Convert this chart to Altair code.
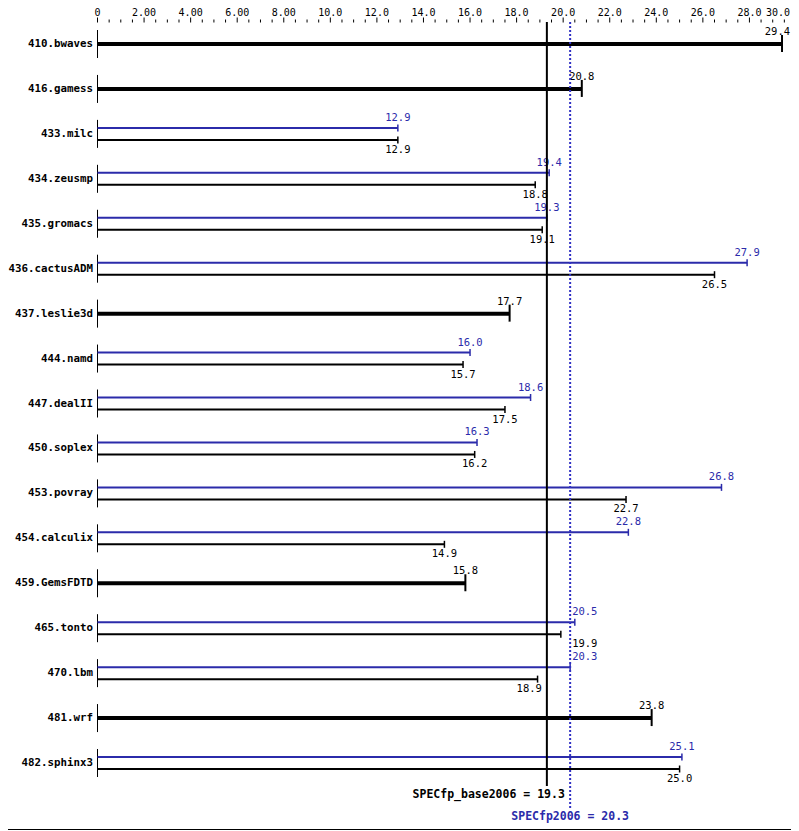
import altair as alt
import pandas as pd
import numpy as np

benchmarks = ["410.bwaves", "416.gamess", "433.milc", "434.zeusmp", "435.gromacs",
              "436.cactusADM", "437.leslie3d", "444.namd", "447.dealII", "450.soplex",
              "453.povray", "454.calculix", "459.GemsFDTD", "465.tonto", "470.lbm",
              "481.wrf", "482.sphinx3"]
base_ratio = [29.4, 20.8, 12.9, 18.8, 19.1, 26.5, 17.7, 15.7, 17.5, 16.2,
              22.7, 14.9, 15.8, 19.9, 18.9, 23.8, 25.0]
peak_ratio = [None, None, 12.9, 19.4, 19.3, 27.9, None, 16.0, 18.6, 16.3,
              26.8, 22.8, None, 20.5, 20.3, None, 25.1]
spec_base = 19.3
spec_peak = 20.3
tick_values = [0, 2, 4, 6, 8, 10, 12, 14, 16, 18, 20, 22, 24, 26, 28, 30]
tick_labels = ["0", "2.00", "4.00", "6.00", "8.00", "10.0", "12.0", "14.0", "16.0",
               "18.0", "20.0", "22.0", "24.0", "26.0", "28.0", "30.0"]
# labels moved beside the reference lines in the original
label_shift = {("465.tonto", "peak"): "peak_right", ("465.tonto", "base"): "peak_right",
               ("470.lbm", "peak"): "peak_right", ("470.lbm", "base"): "base_left"}

BLUE = "#2b2baa"
DOT_BLUE = "#3030c4"
MONO = "DejaVu Sans Mono"

xs = alt.Scale(domain=[0, 30], range=[97.5, 796], nice=False, zero=False)
ys = alt.Scale(domain=[0, 16], range=[44, 763], nice=False, zero=False)


def X(f):
    return alt.X(f, type="quantitative", scale=xs, axis=None)


Y = alt.Y("row:Q", scale=ys, axis=None)

rows = pd.DataFrame({"bench": benchmarks, "row": range(len(benchmarks)),
                     "base": base_ratio, "peak": peak_ratio})
rows["zero"] = 0.0
rows["peak"] = pd.to_numeric(rows["peak"])

single = rows[rows["peak"].isna()].copy()
single["value"] = single["base"]
single["label"] = single["value"].map(lambda v: f"{v:.1f}")
single["edge"] = single["value"] > 29.0

pair = rows[rows["peak"].notna()]
recs = []
for _, r in pair.iterrows():
    for kind in ["peak", "base"]:
        v = r[kind]
        shift = label_shift.get((r["bench"], kind), "center")
        anchor = v
        if shift == "peak_right":
            anchor = spec_peak
        elif shift == "base_left":
            anchor = spec_base
        recs.append({"bench": r["bench"], "row": r["row"], "kind": kind, "value": v,
                     "zero": 0.0, "label": f"{v:.1f}", "shift": shift, "anchor": anchor})
thin = pd.DataFrame(recs)
thin_base = thin[thin["kind"] == "base"]
thin_peak = thin[thin["kind"] == "peak"]

layers = []

# per-row axis segments
layers.append(alt.Chart(rows).mark_rule(color="black", strokeWidth=1, yOffset=-14, y2Offset=14)
              .encode(x=X("zero"), y=Y, y2="row:Q"))

# thick single bars
layers.append(alt.Chart(single).mark_rule(color="black", strokeWidth=4)
              .encode(x=X("zero"), x2="value:Q", y=Y))
layers.append(alt.Chart(single).mark_rule(color="black", strokeWidth=2, yOffset=-9, y2Offset=8)
              .encode(x=X("value"), y=Y, y2="row:Q"))
layers.append(alt.Chart(single[~single["edge"]]).mark_text(color="black", font=MONO, fontSize=10.5,
                                                           dy=-12, baseline="middle")
              .encode(x=X("value"), y=Y, text="label:N"))
layers.append(alt.Chart(single[single["edge"]]).mark_text(color="black", font=MONO, fontSize=10.5,
                                                          dy=-12, dx=8, align="right",
                                                          baseline="middle")
              .encode(x=X("value"), y=Y, text="label:N"))

# thin bars
for dfk, off, col in [(thin_peak, -6, BLUE), (thin_base, 6, "black")]:
    layers.append(alt.Chart(dfk).mark_rule(color=col, strokeWidth=2, yOffset=off)
                  .encode(x=X("zero"), x2="value:Q", y=Y))
    layers.append(alt.Chart(dfk).mark_rule(color=col, strokeWidth=1.5, yOffset=off - 3.5,
                                           y2Offset=off + 3.5)
                  .encode(x=X("value"), y=Y, y2="row:Q"))
    dy = -16 if off < 0 else 16
    layers.append(alt.Chart(dfk[dfk["shift"] == "center"])
                  .mark_text(color=col, font=MONO, fontSize=10.5, dy=dy, baseline="middle")
                  .encode(x=X("value"), y=Y, text="label:N"))
    layers.append(alt.Chart(dfk[dfk["shift"] == "peak_right"])
                  .mark_text(color=col, font=MONO, fontSize=10.5, dy=dy, dx=2, align="left",
                             baseline="middle")
                  .encode(x=X("anchor"), y=Y, text="label:N"))
    layers.append(alt.Chart(dfk[dfk["shift"] == "base_left"])
                  .mark_text(color=col, font=MONO, fontSize=10.5, dy=dy, dx=-5, align="right",
                             baseline="middle")
                  .encode(x=X("anchor"), y=Y, text="label:N"))

# reference lines
ref = pd.DataFrame({"v": [spec_base], "label": [f"SPECfp_base2006 = {spec_base:.1f}"]})
refp = pd.DataFrame({"v": [spec_peak], "label": [f"SPECfp2006 = {spec_peak:.1f}"]})
layers.append(alt.Chart(ref).mark_rule(color="black", strokeWidth=2)
              .encode(x=X("v"), y=alt.value(22), y2=alt.value(786)))
layers.append(alt.Chart(refp).mark_rule(color=DOT_BLUE, strokeWidth=2, strokeDash=[2, 2])
              .encode(x=X("v"), y=alt.value(22), y2=alt.value(810)))
layers.append(alt.Chart(ref).mark_text(color="black", font=MONO, fontSize=11.5, fontWeight="bold",
                                       align="right", dx=18, baseline="middle")
              .encode(x=X("v"), y=alt.value(795), text="label:N"))
layers.append(alt.Chart(refp).mark_text(color=BLUE, font=MONO, fontSize=11.5, fontWeight="bold",
                                        align="center", baseline="middle")
              .encode(x=X("v"), y=alt.value(817), text="label:N"))

# benchmark names
layers.append(alt.Chart(rows).mark_text(color="black", font=MONO, fontSize=10.8, fontWeight="bold",
                                        align="right", baseline="middle")
              .encode(x=alt.value(93), y=Y, text="bench:N"))

# top axis ticks and labels
minor = pd.DataFrame({"t": np.arange(0, 30.01, 0.5)})
minor["major"] = (minor["t"] % 2 == 0)
layers.append(alt.Chart(minor[~minor["major"]]).mark_rule(color="black", strokeWidth=1)
              .encode(x=X("t"), y=alt.value(19.5), y2=alt.value(22.5)))
layers.append(alt.Chart(minor[minor["major"]]).mark_rule(color="black", strokeWidth=1)
              .encode(x=X("t"), y=alt.value(17.5), y2=alt.value(22.5)))
tl = pd.DataFrame({"t": tick_values, "lab": tick_labels})
layers.append(alt.Chart(tl.iloc[:-1]).mark_text(color="black", font=MONO, fontSize=10,
                                                baseline="middle")
              .encode(x=X("t"), y=alt.value(13.2), text="lab:N"))
layers.append(alt.Chart(tl.iloc[-1:]).mark_text(color="black", font=MONO, fontSize=10,
                                                align="right", dx=-6, baseline="middle")
              .encode(x=X("t"), y=alt.value(13.2), text="lab:N"))

# frame
layers.append(alt.Chart(rows.iloc[:1]).mark_rule(color="black", strokeWidth=1)
              .encode(x=alt.value(797.5), y=alt.value(0), y2=alt.value(830)))
layers.append(alt.Chart(rows.iloc[:1]).mark_rule(color="black", strokeWidth=1)
              .encode(x=alt.value(0), x2=alt.value(798), y=alt.value(829.5)))

chart = alt.layer(*layers).properties(
    width=799, height=831, autosize="none",
    padding={"left": -8, "top": -8, "right": -8, "bottom": 0},
    background="white",
).configure_view(stroke=None)

chart.save("out.html", embed_options={"renderer": "svg", "actions": False})
